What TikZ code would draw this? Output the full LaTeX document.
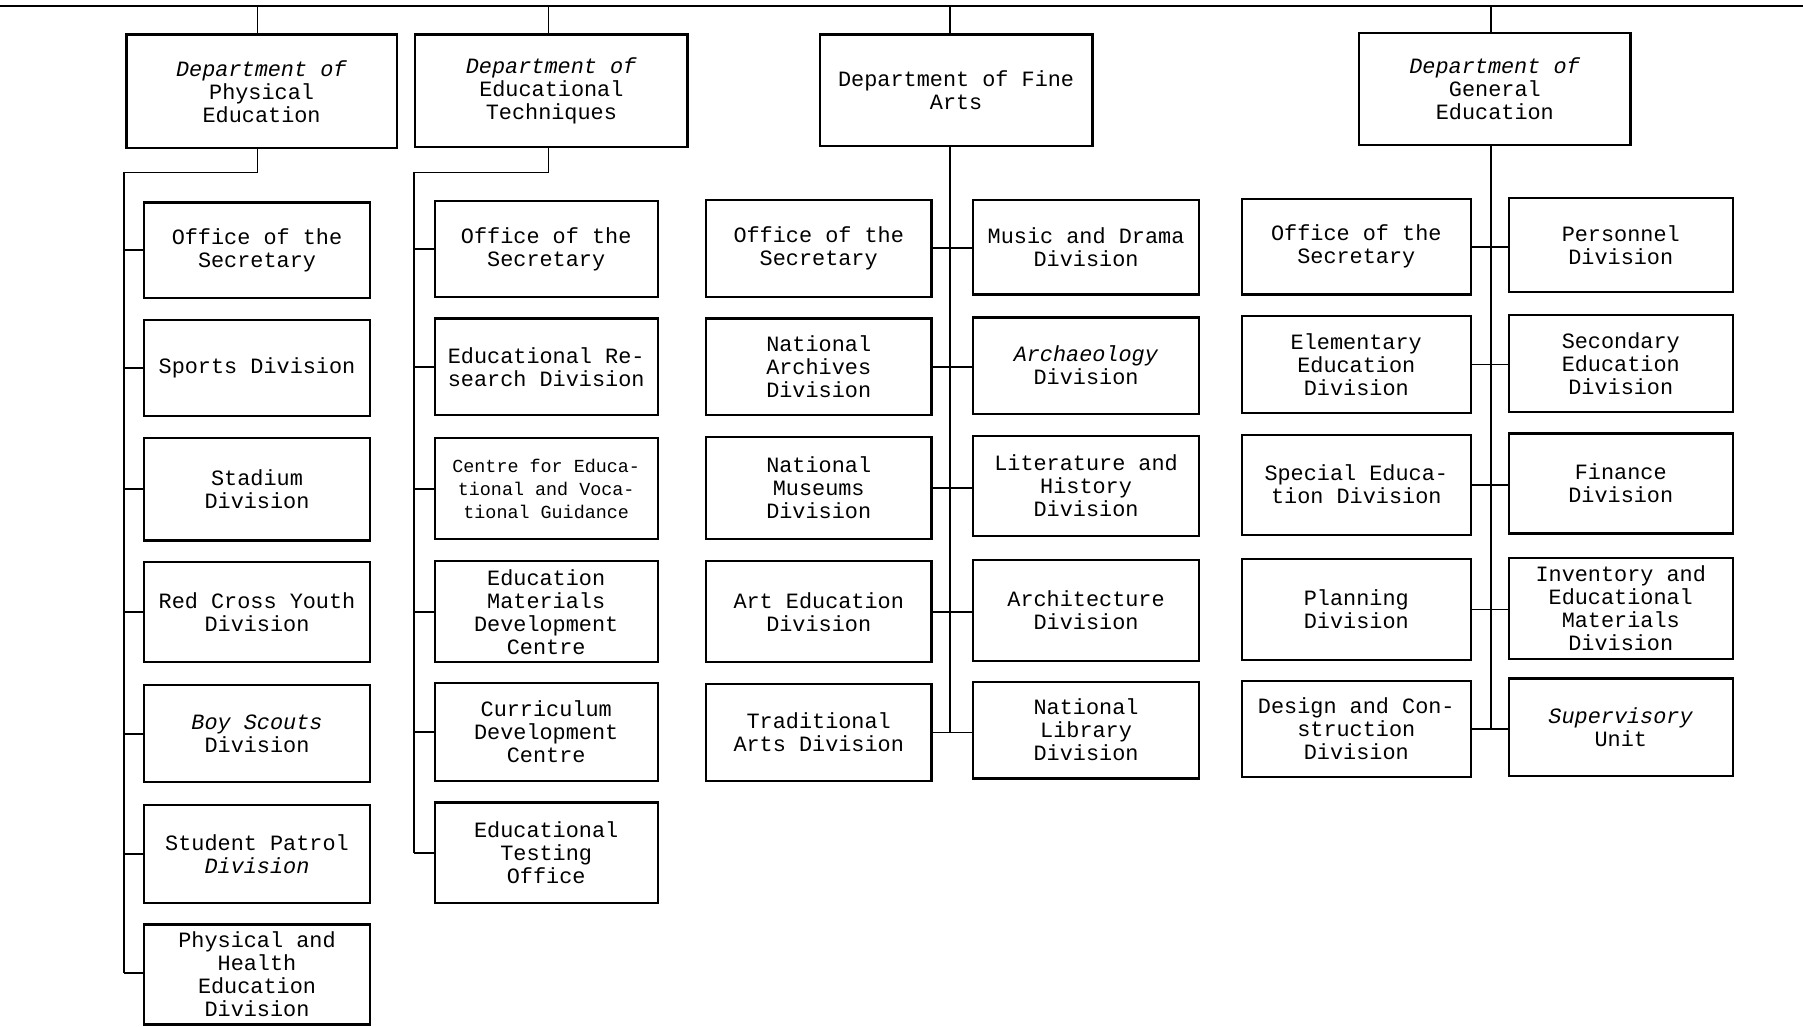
\documentclass[tikz,border=0pt]{standalone}
\usepackage{fontspec}
\newfontfamily\tw{Liberation Mono}
\begin{document}
\begin{tikzpicture}[x=1pt,y=-1pt,
  box/.style={draw, line width=2pt, align=center, inner sep=0pt,
    font=\tw\fontsize{19}{20}\selectfont},
  smallbox/.style={box, font=\tw\fontsize{16}{20}\selectfont},
  conn/.style={line width=1.6pt}]
\useasboundingbox (0,0) rectangle (1568,893);
\newcommand\bx[7][box]{\node[#1, minimum width={(#5-#3)*1pt}, minimum height={(#6-#4)*1pt}] (#2) at ({(#3+#5)/2},{(#4+#6)/2}) {#7};}
% top line
\coordinate (topL) at (0,5);
\coordinate (topR) at (1568,5);
\draw[conn] (topL) -- (topR);
% departments
\bx{d1}{110}{30}{345}{129}{\textit{Department of}\\Physical\\Education}
\bx{d2}{361}{30}{598}{128}{\textit{Department of}\\Educational\\Techniques}
\bx{d3}{713}{30}{950}{127}{Department of Fine\\Arts}
\bx{d4}{1182}{29}{1418}{126}{\textit{Department of}\\General\\Education}
% column 1
\bx{a1}{125}{176}{322}{259}{Office of the\\Secretary}
\bx{a2}{125}{278}{322}{362}{Sports Division}
\bx{a3}{125}{381}{322}{470}{Stadium\\Division}
\bx{a4}{125}{489}{322}{576}{Red Cross Youth\\Division}
\bx{a5}{125}{596}{322}{680}{\textit{Boy Scouts}\\Division}
\bx{a6}{125}{700}{322}{785}{Student Patrol\\\textit{Division}}
\bx{a7}{125}{804}{322}{891}{Physical and\\Health\\Education\\Division}
% column 2
\bx{b1}{378}{175}{572}{258}{Office of the\\Secretary}
\bx{b2}{378}{277}{572}{361}{Educational Re-\\search Division}
\bx[smallbox]{b3}{378}{381}{572}{469}{Centre for Educa-\\tional and Voca-\\tional Guidance}
\bx{b4}{378}{488}{572}{576}{Education\\Materials\\Development\\Centre}
\bx{b5}{378}{594}{572}{679}{Curriculum\\Development\\Centre}
\bx{b6}{378}{698}{572}{785}{Educational\\Testing\\Office}
% column 3
\bx{c1}{614}{174}{810}{258}{Office of the\\Secretary}
\bx{c2}{614}{277}{810}{361}{National\\Archives\\Division}
\bx{c3}{614}{380}{810}{469}{National\\Museums\\Division}
\bx{c4}{614}{488}{810}{576}{Art Education\\Division}
\bx{c5}{614}{595}{810}{679}{Traditional\\Arts Division}
\bx{e1}{846}{174}{1043}{256}{Music and Drama\\Division}
\bx{e2}{846}{276}{1043}{360}{\textit{Archaeology}\\Division}
\bx{e3}{846}{379}{1043}{466}{Literature and\\History\\Division}
\bx{e4}{846}{487}{1043}{575}{Architecture\\Division}
\bx{e5}{846}{593}{1043}{677}{National\\Library\\Division}
% column 4
\bx{g1}{1080}{173}{1279}{256}{Office of the\\Secretary}
\bx{g2}{1080}{275}{1279}{359}{Elementary\\Education\\Division}
\bx{g3}{1080}{378}{1279}{465}{Special Educa-\\tion Division}
\bx{g4}{1080}{486}{1279}{574}{Planning\\Division}
\bx{g5}{1080}{592}{1279}{676}{Design and Con-\\struction\\Division}
\bx{h1}{1312}{172}{1507}{254}{Personnel\\Division}
\bx{h2}{1312}{274}{1507}{358}{Secondary\\Education\\Division}
\bx{h3}{1312}{377}{1507}{464}{Finance\\Division}
\bx{h4}{1312}{485}{1507}{573}{Inventory and\\Educational\\Materials\\Division}
\bx{h5}{1312}{590}{1507}{675}{\textit{Supervisory}\\Unit}
% trunk x positions
\coordinate (x1) at (224,0);
\coordinate (x2) at (477,0);
\coordinate (x3) at (826,0);
\coordinate (x4) at (1297,0);
% connectors from top line
\draw[conn] (d1.north -| x1) -- (topL -| x1);
\draw[conn] (d2.north -| x2) -- (topL -| x2);
\draw[conn] (d3.north -| x3) -- (topL -| x3);
\draw[conn] (d4.north -| x4) -- (topL -| x4);
% column 1 trunk
\coordinate (t1a) at (108,150);
\coordinate (t1b) at (108,846);
\draw[conn] (d1.south -| x1) |- (t1a) -- (t1b);
\foreach \b in {a1,a2,a3,a4,a5,a6}{\draw[conn] (\b.west) -- (\b.west -| t1a);}
\draw[conn] (t1b) -- (t1b -| a7.west);
% column 2 trunk
\coordinate (t2a) at (360,150);
\coordinate (t2b) at (360,742);
\draw[conn] (d2.south -| x2) |- (t2a) -- (t2b);
\foreach \b in {b1,b2,b3,b4,b5}{\draw[conn] (\b.west) -- (\b.west -| t2a);}
\draw[conn] (t2b) -- (t2b -| b6.west);
% column 3 trunk
\draw[conn] (d3.south -| x3) -- (c5.east -| x3);
\foreach \l/\r in {c1/e1,c2/e2,c3/e3,c4/e4,c5/e5}{\draw[conn] (\l.east) -- (\l.east -| \r.west);}
% column 4 trunk
\draw[conn] (d4.south -| x4) -- (g5.east -| x4);
\foreach \l/\r in {g1/h1,g2/h2,g3/h3,g4/h4,g5/h5}{\draw[conn] (\l.east) -- (\l.east -| \r.west);}
\end{tikzpicture}
\end{document}
